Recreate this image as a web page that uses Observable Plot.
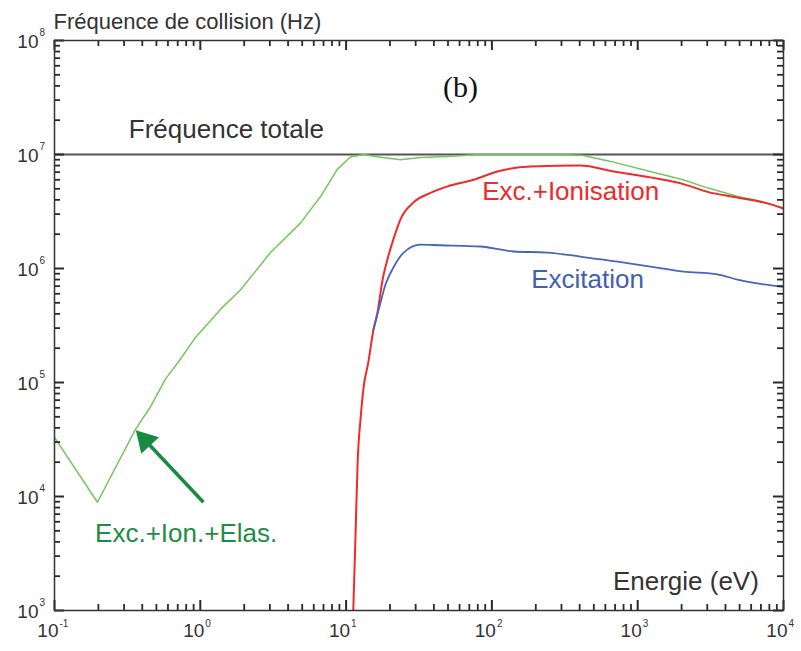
<!DOCTYPE html>
<html>
<head>
<meta charset="utf-8">
<script src="https://cdn.jsdelivr.net/npm/d3@7"></script>
<script src="https://cdn.jsdelivr.net/npm/@observablehq/plot@0.6"></script>
<style>
  html, body { margin: 0; padding: 0; background: #fff; }
  #chart svg { display: block; }
</style>
</head>
<body>
<div id="chart"></div>
<script>
// Energy (eV) and collision frequency (Hz)
const greenE = [0.1, 0.197, 0.36, 0.455, 0.577, 0.73, 0.93, 1.38, 1.89, 3.03, 4.86, 6.7, 8.7, 10.7, 13.2, 16.7, 23.6, 32.4, 49.5, 83, 295, 424, 650, 1220, 2050, 3000, 4800, 7200, 10000];
const greenF = [3.3e4, 8.9e3, 3.9e4, 6.1e4, 1.07e5, 1.6e5, 2.5e5, 4.4e5, 6.5e5, 1.38e6, 2.5e6, 4.3e6, 7.4e6, 9.5e6, 1.0e7, 9.5e6, 9.0e6, 9.4e6, 9.6e6, 1.0e7, 1.0e7, 9.8e6, 8.7e6, 7.1e6, 6.0e6, 5.1e6, 4.3e6, 3.85e6, 3.4e6];

const redE = [11.2, 11.6, 12.0, 12.6, 13.2, 14.2, 15.4, 16.4, 17.8, 19.2, 21.1, 23.6, 29, 37.9, 49.6, 74.8, 109, 184, 405, 682, 1225, 2060, 3010, 4830, 7290, 10000];
const redF = [1.0e3, 4.5e3, 2.0e4, 5.0e4, 9.2e4, 1.5e5, 2.9e5, 4.1e5, 8.0e5, 1.2e6, 1.8e6, 2.7e6, 3.8e6, 4.6e6, 5.25e6, 6.0e6, 7.1e6, 7.85e6, 8.0e6, 7.1e6, 6.3e6, 5.5e6, 4.7e6, 4.2e6, 3.8e6, 3.36e6];

const blueE = [15.4, 17.2, 18.6, 21.1, 24.8, 32.4, 44.4, 83, 140, 240, 405, 728, 1225, 2060, 3520, 4830, 6600, 10000];
const blueF = [2.9e5, 5.0e5, 7.2e5, 1.02e6, 1.38e6, 1.62e6, 1.6e6, 1.56e6, 1.41e6, 1.38e6, 1.27e6, 1.15e6, 1.04e6, 9.4e5, 8.9e5, 8.0e5, 7.4e5, 6.9e5];

const totalF = [1e7];

const xTicks = [0.1, 1, 10, 100, 1000, 10000];
const xExps = ["-1", "0", "1", "2", "3", "4"];
const yTicks = [1e3, 1e4, 1e5, 1e6, 1e7, 1e8];
const yExps = ["3", "4", "5", "6", "7", "8"];

// arrow annotation (tail energy/frequency, head energy/frequency)
const arrowTail = {x: 1.05, y: 8.9e3};
const arrowHead = {x: 0.42, y: 3.1e4};

const toRows = (xs, ys) => xs.map((x, i) => ({x, y: ys[i]}));
const green = toRows(greenE, greenF);
const red = toRows(redE, redF);
const blue = toRows(blueE, blueF);

const minor = (lo, hi) => {
  const out = [];
  for (let e = lo; e < hi; e++) for (let m = 2; m <= 9; m++) out.push(m * Math.pow(10, e));
  return out;
};
const xMinor = minor(-1, 4);
const yMinor = minor(3, 8);

const font = "Liberation Sans, Arial, Helvetica, sans-serif";
const ink = "#333";
const tickInk = "#2a2a2a";

const W = 801, H = 651, ML = 54, MR = 18, MT = 40, MB = 41;
const FW = W - ML - MR, FH = H - MT - MB;
const minorLen = 6, majorLen = 10;

const chart = Plot.plot({
  width: W,
  height: H,
  marginLeft: ML,
  marginRight: MR,
  marginTop: MT,
  marginBottom: MB,
  style: {fontFamily: font, background: "#fff"},
  x: {type: "log", domain: [0.1, 1e4], axis: null},
  y: {type: "log", domain: [1e3, 1e8], axis: null},
  marks: [
    // total frequency
    Plot.ruleY(totalF, {stroke: "#555", strokeWidth: 2}),
    // curves
    Plot.line(green, {x: "x", y: "y", stroke: "#78c462", strokeWidth: 1.5, clip: true}),
    Plot.line(red, {x: "x", y: "y", stroke: "#f02a2a", strokeWidth: 2, curve: "monotone-x", clip: true}),
    Plot.line(blue, {x: "x", y: "y", stroke: "#4666bd", strokeWidth: 1.8, curve: "monotone-x", clip: true}),
    // arrow: shaft and filled head
    Plot.link([{x1: arrowTail.x, y1: arrowTail.y, x2: arrowHead.x, y2: arrowHead.y}], {x1: "x1", y1: "y1", x2: "x2", y2: "y2", stroke: "#1a8a42", strokeWidth: 3.5}),
    Plot.dot([arrowHead], {x: "x", y: "y", symbol: "triangle", r: 9, rotate: -43, fill: "#1a8a42", stroke: "none"}),
    // annotations
    Plot.text(["Fréquence totale"], {x: 1.51, y: 1.66e7, text: d => d, fontSize: 26, fill: ink}),
    Plot.text(["(b)"], {x: 61, y: 3.87e7, text: d => d, fontSize: 30, fill: "#111", fontFamily: "Liberation Serif, Times New Roman, serif"}),
    Plot.text(["Exc.+Ionisation"], {x: 347, y: 4.73e6, text: d => d, fontSize: 26, fill: "#ee2a2a"}),
    Plot.text(["Excitation"], {x: 453, y: 7.9e5, text: d => d, fontSize: 26, fill: "#3f5fb5"}),
    Plot.text(["Exc.+Ion.+Elas."], {x: 0.80, y: 4.7e3, text: d => d, fontSize: 26, fill: "#1e8c46"}),
    Plot.text(["Energie (eV)"], {x: 2140, y: 1.8e3, text: d => d, fontSize: 26, fill: ink}),
    Plot.text(["Fréquence de collision (Hz)"], {frameAnchor: "top-left", lineAnchor: "middle", dx: -1, dy: -19, textAnchor: "start", text: d => d, fontSize: 22, fill: ink}),
    // tick labels 10^n
    Plot.text(xTicks, {x: d => d, frameAnchor: "bottom", lineAnchor: "middle", dx: 4, dy: 20, textAnchor: "end", text: () => "10", fontSize: 19, fill: ink}),
    Plot.text(xTicks, {x: d => d, frameAnchor: "bottom", lineAnchor: "middle", dx: 5, dy: 13, textAnchor: "start", text: (d, i) => xExps[i], fontSize: 10, fill: ink}),
    Plot.text(yTicks, {y: d => d, frameAnchor: "left", lineAnchor: "middle", dx: -16, dy: 1, textAnchor: "end", text: () => "10", fontSize: 19, fill: ink}),
    Plot.text(yTicks, {y: d => d, frameAnchor: "left", lineAnchor: "middle", dx: -15, dy: -8, textAnchor: "start", text: (d, i) => yExps[i], fontSize: 10, fill: ink}),
    // inward ticks on all four sides (drawn on top)
    Plot.ruleX(xMinor, {x: d => d, insetTop: FH - minorLen, stroke: tickInk, strokeWidth: 1.8}),
    Plot.ruleX(xTicks, {x: d => d, insetTop: FH - majorLen, stroke: tickInk, strokeWidth: 2}),
    Plot.ruleX(xMinor, {x: d => d, insetBottom: FH - minorLen, stroke: tickInk, strokeWidth: 1.8}),
    Plot.ruleX(xTicks, {x: d => d, insetBottom: FH - majorLen, stroke: tickInk, strokeWidth: 2}),
    Plot.ruleY(yMinor, {y: d => d, insetRight: FW - minorLen, stroke: tickInk, strokeWidth: 1.8}),
    Plot.ruleY(yTicks, {y: d => d, insetRight: FW - majorLen, stroke: tickInk, strokeWidth: 2}),
    Plot.ruleY(yMinor, {y: d => d, insetLeft: FW - minorLen, stroke: tickInk, strokeWidth: 1.8}),
    Plot.ruleY(yTicks, {y: d => d, insetLeft: FW - majorLen, stroke: tickInk, strokeWidth: 2}),
    Plot.frame({stroke: ink, strokeWidth: 1.5})
  ]
});
document.getElementById("chart").appendChild(chart);
</script>
</body>
</html>
